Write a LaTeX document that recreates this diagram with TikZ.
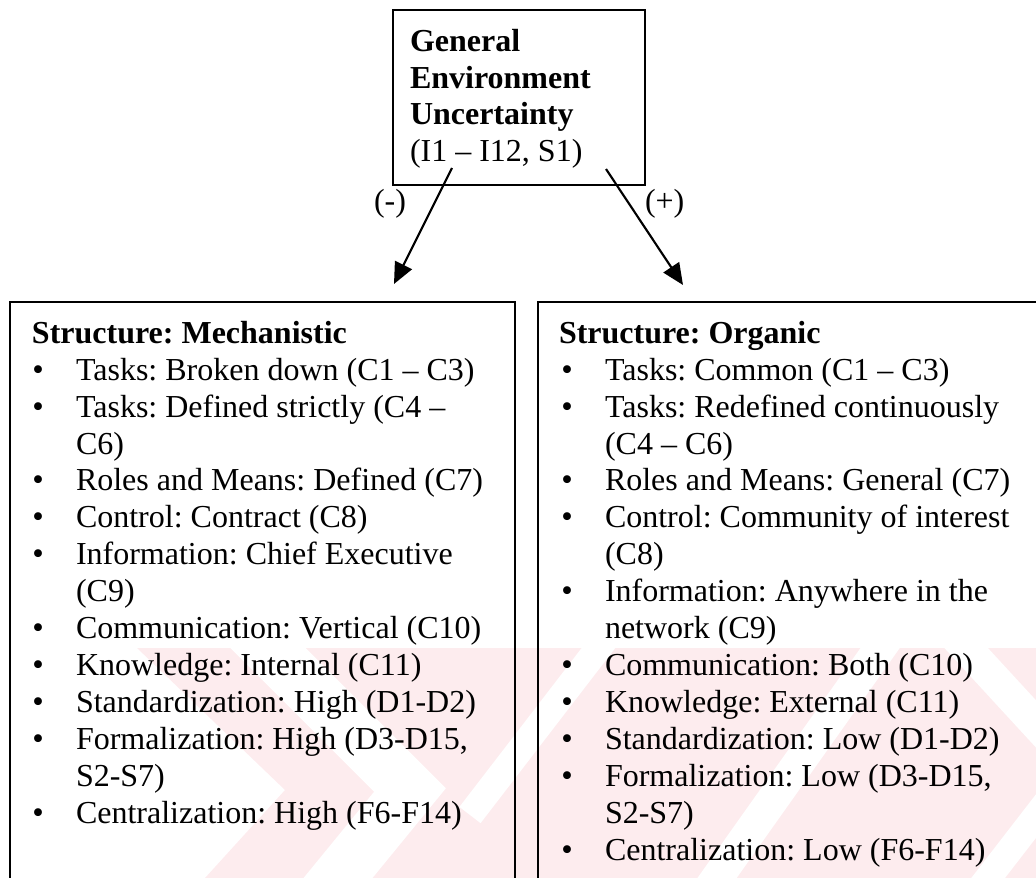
\documentclass[tikz,border=0pt]{standalone}
\usepackage{fontspec}
\setmainfont{Liberation Serif}
\usetikzlibrary{arrows.meta,fit}
\definecolor{wmpink}{RGB}{253,236,238}
\frenchspacing
\begin{document}
\begin{tikzpicture}[x=0.375pt,y=-0.375pt,
  every node/.style={inner sep=0pt, outer sep=0pt},
  frame/.style={draw=black, line width=1pt},
  txt/.style={anchor=base west, font=\fontsize{12}{13.8}\selectfont},
  head/.style={anchor=base west, font=\fontsize{12}{13.8}\selectfont\bfseries},
  bul/.style={anchor=base, font=\fontsize{12.3}{13.8}\selectfont},
  link/.style={draw=black, line width=0.8pt, -{Triangle[length=8pt,width=7pt]}},
  wm/.style={white, line width=#1, line join=miter}]

\useasboundingbox (0,0) rectangle (1036,878);
\clip (0,0) rectangle (1036,878);

% faint watermark stripes in the lower part of the page
\begin{scope}
  \clip (0,648) rectangle (1036,878);
  \fill[wmpink] (137,648) -- (1036,648) -- (1036,878) -- (205,878) -- (285,790) -- cycle;
  \draw[wm=20pt] (240,620) -- (410,790) -- (320,900);
  \draw[wm=10pt] (620,620) -- (470,815);
  \draw[wm=12pt] (900,620) -- (705,895);
  \draw[wm=12pt] (945,625) -- (1060,750);
  \draw[wm=10pt] (1060,785) -- (975,895);
\end{scope}

% boxes
\node[frame, fit={(393,10) (645,185)}] (top) {};
\node[frame, fit={(10,302) (515,920)}] (mech) {};
\node[frame, fit={(538,302) (1080,920)}] (org) {};

% top box text
\node[head] (t1) at (410,52) {General};
\node[head] (t2) at (410,88) {Environment};
\node[head] (t3) at (410,125) {Uncertainty};
\node[txt]  (t4) at (410,161) {(I1 – I12, S1)};

% arrows and signs
\coordinate (ls) at (452,168);
\coordinate (le) at (394,284);
\coordinate (rs) at (606,169);
\coordinate (re) at (683,285);
\draw[link] (ls) -- (le);
\draw[link] (rs) -- (re);
\node[txt] (neg) at (374,211) {(-)};
\node[txt] (pos) at (645,211) {(+)};

% mechanistic structure
\node[head] (l0)  at (32,343) {Structure: Mechanistic};
\node[bul]  (lb1) at (38,380) {•};
\node[txt]  (l1)  at (76,380) {Tasks: Broken down (C1 – C3)};
\node[bul]  (lb2) at (38,417) {•};
\node[txt]  (l2)  at (76,417) {Tasks: Defined strictly (C4 –};
\node[txt]  (l3)  at (76,454) {C6)};
\node[bul]  (lb4) at (38,490) {•};
\node[txt]  (l4)  at (76,490) {Roles and Means: Defined (C7)};
\node[bul]  (lb5) at (38,527) {•};
\node[txt]  (l5)  at (76,527) {Control: Contract (C8)};
\node[bul]  (lb6) at (38,564) {•};
\node[txt]  (l6)  at (76,564) {Information: Chief Executive};
\node[txt]  (l7)  at (76,601) {(C9)};
\node[bul]  (lb8) at (38,638) {•};
\node[txt]  (l8)  at (76,638) {Communication: Vertical (C10)};
\node[bul]  (lb9) at (38,675) {•};
\node[txt]  (l9)  at (76,675) {Knowledge: Internal (C11)};
\node[bul]  (lb10) at (38,712) {•};
\node[txt]  (l10) at (76,712) {Standardization: High (D1-D2)};
\node[bul]  (lb11) at (38,749) {•};
\node[txt]  (l11) at (76,749) {Formalization: High (D3-D15,};
\node[txt]  (l12) at (76,786) {S2-S7)};
\node[bul]  (lb13) at (38,823) {•};
\node[txt]  (l13) at (76,823) {Centralization: High (F6-F14)};

% organic structure
\node[head] (r0)  at (559,343) {Structure: Organic};
\node[bul]  (rb1) at (567,380) {•};
\node[txt]  (r1)  at (605,380) {Tasks: Common (C1 – C3)};
\node[bul]  (rb2) at (567,417) {•};
\node[txt]  (r2)  at (605,417) {Tasks: Redefined continuously};
\node[txt]  (r3)  at (605,454) {(C4 – C6)};
\node[bul]  (rb4) at (567,490) {•};
\node[txt]  (r4)  at (605,490) {Roles and Means: General (C7)};
\node[bul]  (rb5) at (567,527) {•};
\node[txt]  (r5)  at (605,527) {Control: Community of interest};
\node[txt]  (r6)  at (605,564) {(C8)};
\node[bul]  (rb7) at (567,601) {•};
\node[txt]  (r7)  at (605,601) {Information: Anywhere in the};
\node[txt]  (r8)  at (605,638) {network (C9)};
\node[bul]  (rb9) at (567,675) {•};
\node[txt]  (r9)  at (605,675) {Communication: Both (C10)};
\node[bul]  (rb10) at (567,712) {•};
\node[txt]  (r10) at (605,712) {Knowledge: External (C11)};
\node[bul]  (rb11) at (567,749) {•};
\node[txt]  (r11) at (605,749) {Standardization: Low (D1-D2)};
\node[bul]  (rb12) at (567,786) {•};
\node[txt]  (r12) at (605,786) {Formalization: Low (D3-D15,};
\node[txt]  (r13) at (605,823) {S2-S7)};
\node[bul]  (rb14) at (567,860) {•};
\node[txt]  (r14) at (605,860) {Centralization: Low (F6-F14)};
\end{tikzpicture}
\end{document}
